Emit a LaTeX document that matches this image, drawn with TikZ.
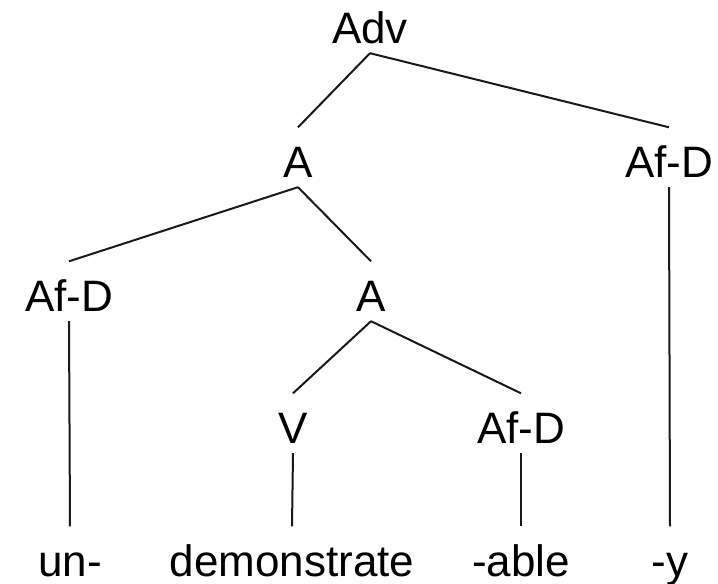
\documentclass[tikz,border=0pt]{standalone}
\usepackage{fontspec}
\setmainfont{Liberation Sans}
\begin{document}
\begin{tikzpicture}[x=1pt,y=-1pt,
  lbl/.style={anchor=base,inner sep=0pt,text height=49.5pt,text depth=10pt,
    font=\fontsize{44}{52}\selectfont},
  leaf/.style={lbl,text depth=0pt},
  edge/.style={line width=2pt,draw=black!90}]
\useasboundingbox (0,0) rectangle (718,584);
% category nodes
\node[lbl] (adv) at (370,43) {Adv};
\node[lbl] (a1) at (298,177) {A};
\node[lbl] (afy) at (669,177) {Af-D};
\node[lbl] (afun) at (69,311) {Af-D};
\node[lbl] (a2) at (371,311) {A};
\node[lbl] (v) at (293,443) {V};
\node[lbl] (afable) at (521,443) {Af-D};
% morphemes
\node[leaf] (un) at (70,576) {un-};
\node[leaf] (dem) at (292,576) {demonstrate};
\node[leaf] (able) at (521,576) {-able};
\node[leaf] (y) at (670,576) {-y};
% branches
\draw[edge] (adv.south) -- (a1.north);
\draw[edge] (adv.south) -- (afy.north);
\draw[edge] (a1.south) -- (afun.north);
\draw[edge] (a1.south) -- (a2.north);
\draw[edge] (a2.south) -- (v.north);
\draw[edge] (a2.south) -- (afable.north);
\draw[edge] (afun.south) -- (un.north);
\draw[edge] (v.south) -- (dem.north);
\draw[edge] (afable.south) -- (able.north);
\draw[edge] (afy.south) -- (y.north);
\end{tikzpicture}
\end{document}
